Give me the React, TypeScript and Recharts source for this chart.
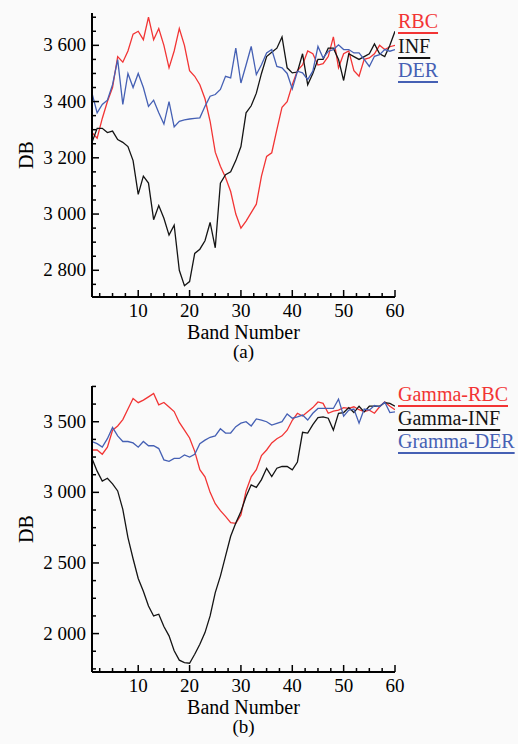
import React from 'react';
import { LineChart, Line, XAxis, YAxis, Legend } from 'recharts';

const FONT = '"Liberation Serif", "Times New Roman", serif';
const RED = '#f23434';
const BLACK = '#141414';
const BLUE = '#4560b4';

const bands = [1,2,3,4,5,6,7,8,9,10,11,12,13,14,15,16,17,18,19,20,21,22,23,24,25,26,27,28,29,30,
  31,32,33,34,35,36,37,38,39,40,41,42,43,44,45,46,47,48,49,50,51,52,53,54,55,56,57,58,59,60];

const rbcA = [3290,3270,3340,3400,3450,3560,3540,3580,3640,3650,3620,3700,3620,3660,3600,3520,3580,3660,3600,3510,3490,3460,3410,3330,3220,3170,3130,3080,3000,2950,
  2975,3005,3035,3135,3205,3218,3300,3380,3400,3460,3510,3530,3580,3570,3530,3535,3560,3630,3520,3570,3580,3510,3490,3550,3555,3570,3600,3585,3595,3600];
const infA = [3255,3305,3305,3290,3295,3265,3255,3240,3190,3070,3135,3110,2980,3030,2985,2925,2960,2800,2745,2760,2860,2875,2905,2970,2880,3110,3140,3150,3190,3240,
  3360,3385,3430,3500,3560,3575,3590,3630,3520,3502,3505,3570,3460,3500,3550,3550,3590,3590,3550,3475,3570,3560,3550,3560,3570,3605,3570,3560,3600,3650];
const derA = [3430,3360,3390,3405,3460,3549,3390,3500,3450,3500,3450,3383,3405,3360,3320,3400,3310,3330,3335,3338,3340,3342,3383,3419,3425,3443,3490,3484,3590,3466,
  3530,3596,3496,3531,3573,3585,3525,3520,3500,3445,3508,3502,3478,3508,3596,3555,3579,3585,3602,3585,3585,3573,3573,3550,3525,3561,3567,3585,3579,3585];

const rbcB = [3300,3300,3270,3320,3440,3470,3515,3590,3665,3635,3653,3676,3700,3620,3636,3605,3572,3495,3440,3385,3290,3160,3110,3000,2920,2870,2830,2785,2780,2840,
  3010,3110,3160,3260,3300,3350,3380,3400,3440,3510,3560,3540,3570,3600,3640,3630,3560,3575,3582,3600,3594,3606,3585,3572,3582,3560,3606,3640,3610,3585];
const infB = [3240,3150,3080,3100,3060,3010,2880,2680,2530,2390,2300,2195,2125,2137,2050,1984,1878,1812,1795,1790,1854,1925,2007,2125,2290,2407,2548,2689,2783,2865,
  2970,3053,3035,3090,3170,3112,3171,3183,3183,3160,3215,3425,3420,3480,3530,3535,3525,3441,3560,3565,3600,3565,3610,3570,3610,3610,3610,3635,3630,3610];
const derB = [3360,3345,3320,3380,3460,3400,3360,3360,3350,3320,3360,3330,3330,3310,3230,3220,3240,3240,3265,3250,3270,3345,3370,3390,3400,3450,3420,3420,3465,3490,
  3500,3470,3520,3512,3500,3476,3488,3500,3555,3525,3535,3547,3512,3560,3594,3594,3594,3594,3660,3540,3582,3590,3490,3590,3582,3615,3606,3640,3565,3570];

const xTicks = [2.5,5,7.5,10,12.5,15,17.5,20,22.5,25,27.5,30,32.5,35,37.5,40,42.5,45,47.5,50,52.5,55,57.5,60];
const yTicksA = [2750,2800,2850,2900,2950,3000,3050,3100,3150,3200,3250,3300,3350,3400,3450,3500,3550,3600,3650,3700];
const yTicksB = [1750,1875,2000,2125,2250,2375,2500,2625,2750,2875,3000,3125,3250,3375,3500,3625,3750];

const namesA = ['RBC', 'INF', 'DER'];
const namesB = ['Gamma-RBC', 'Gamma-INF', 'Gramma-DER'];

const dataA = bands.map((b, i) => ({ band: b, s0: rbcA[i], s1: infA[i], s2: derA[i] }));
const dataB = bands.map((b, i) => ({ band: b, s0: rbcB[i], s1: infB[i], s2: derB[i] }));

const fmt = (v: number) => `${Math.floor(v / 1000)} ${String(v % 1000).padStart(3, '0')}`;

const AX = { stroke: '#000', strokeWidth: 2 };

function Panel(props: any) {
  const { data, names, yDomain, yTicks, yMajor, tag, top, bottom, legendTop, legendLH } = props;
  const isMajorX = (v: number) => v % 10 === 0;
  const isMajorY = (v: number) => v % yMajor === 0;
  const xBottomTick = (p: any) => {
    const v = p.payload.value;
    const m = isMajorX(v);
    return (
      <g>
        <line x1={p.x} x2={p.x} y1={p.y} y2={p.y - (m ? 7 : 4)} stroke="#000" strokeWidth={1.5} />
        {m && (
          <text x={p.x} y={p.y + 20} textAnchor="middle" fontFamily={FONT} fontSize={19} fill="#000">{v}</text>
        )}
      </g>
    );
  };
  const xTopTick = (p: any) => {
    const v = p.payload.value;
    const m = isMajorX(v);
    return <line x1={p.x} x2={p.x} y1={p.y} y2={p.y + (m ? 7 : 4)} stroke="#000" strokeWidth={1.5} />;
  };
  const yLeftTick = (p: any) => {
    const v = p.payload.value;
    const m = isMajorY(v);
    return (
      <g>
        <line x1={p.x} x2={p.x + (m ? 7 : 4)} y1={p.y} y2={p.y} stroke="#000" strokeWidth={1.5} />
        {m && (
          <text x={p.x - 6} y={p.y + 6} textAnchor="end" fontFamily={FONT} fontSize={19} fill="#000">{fmt(v)}</text>
        )}
      </g>
    );
  };
  const yRightTick = (p: any) => {
    const v = p.payload.value;
    const m = isMajorY(v);
    return <line x1={p.x} x2={p.x - (m ? 7 : 4)} y1={p.y} y2={p.y} stroke="#000" strokeWidth={1.5} />;
  };
  const xLabel = (p: any) => {
    const vb = p.viewBox || { x: 92, y: 297, width: 303 };
    const cx = vb.x + vb.width / 2;
    return (
      <g>
        <text x={cx} y={vb.y + 42} textAnchor="middle" fontFamily={FONT} fontSize={20} fill="#000">Band Number</text>
        <text x={cx} y={vb.y + 61} textAnchor="middle" fontFamily={FONT} fontSize={19} fill="#000">{tag}</text>
      </g>
    );
  };
  const yLabel = (p: any) => {
    const vb = p.viewBox || { x: 32, y: top, height: 285 };
    const cx = vb.x - 6;
    const cy = vb.y + vb.height / 2;
    return (
      <text x={cx} y={cy} transform={`rotate(-90 ${cx} ${cy})`} textAnchor="middle" dominantBaseline="central" fontFamily={FONT} fontSize={20} fill="#000">DB</text>
    );
  };
  const legendContent = (p: any) => {
    const items = [...(p.payload || [])].sort((a: any, b: any) => names.indexOf(a.value) - names.indexOf(b.value));
    return (
      <div style={{ fontFamily: FONT, fontSize: 20, lineHeight: legendLH + 'px', textAlign: 'left' }}>
        {items.map((e: any, i: number) => (
          <div key={i} style={{ color: e.color, textDecoration: 'underline', textDecorationThickness: '1.5px', textUnderlineOffset: '4px', whiteSpace: 'nowrap' }}>{e.value}</div>
        ))}
      </div>
    );
  };
  return (
    <LineChart width={518} height={372} data={data} margin={{ top, right: 123, bottom, left: 32 }}>
      <XAxis dataKey="band" type="number" domain={[1, 60]} allowDataOverflow ticks={xTicks} interval={0}
        height={30} tickSize={0} tickMargin={0} tickLine={false} axisLine={AX} tick={xBottomTick} label={{ content: xLabel }} />
      <XAxis xAxisId="top" orientation="top" dataKey="band" type="number" domain={[1, 60]} allowDataOverflow ticks={xTicks} interval={0}
        height={0} tickSize={0} tickMargin={0} tickLine={false} axisLine={AX} tick={xTopTick} />
      <YAxis type="number" domain={yDomain} allowDataOverflow ticks={yTicks} interval={0}
        width={60} tickSize={0} tickMargin={0} tickLine={false} axisLine={AX} tick={yLeftTick} label={{ content: yLabel }} />
      <YAxis yAxisId="right" orientation="right" type="number" domain={yDomain} allowDataOverflow ticks={yTicks} interval={0}
        width={0} tickSize={0} tickMargin={0} tickLine={false} axisLine={AX} tick={yRightTick} />
      <Line dataKey="s0" name={names[0]} stroke={RED} strokeWidth={1.3} dot={false} isAnimationActive={false} type="linear" />
      <Line dataKey="s1" name={names[1]} stroke={BLACK} strokeWidth={1.3} dot={false} isAnimationActive={false} type="linear" />
      <Line dataKey="s2" name={names[2]} stroke={BLUE} strokeWidth={1.3} dot={false} isAnimationActive={false} type="linear" />
      <Legend layout="vertical" align="center" verticalAlign="middle" content={legendContent}
        wrapperStyle={{ left: 398, top: legendTop, width: 120, height: 80 }} />
    </LineChart>
  );
}

export default function App() {
  return (
    <div style={{ position: 'absolute', left: 0, top: 0, width: 518, height: 744, background: '#fafafa', overflow: 'hidden' }}>
      <div style={{ position: 'absolute', left: 0, top: 0 }}>
        <Panel data={dataA} names={namesA} yDomain={[2705, 3715]} yTicks={yTicksA} yMajor={200} tag="(a)"
          top={13} bottom={45} legendTop={9} legendLH={24.5} />
      </div>
      <div style={{ position: 'absolute', left: 0, top: 372 }}>
        <Panel data={dataB} names={namesB} yDomain={[1728, 3753]} yTicks={yTicksB} yMajor={500} tag="(b)"
          top={14} bottom={42} legendTop={11} legendLH={23.5} />
      </div>
    </div>
  );
}
